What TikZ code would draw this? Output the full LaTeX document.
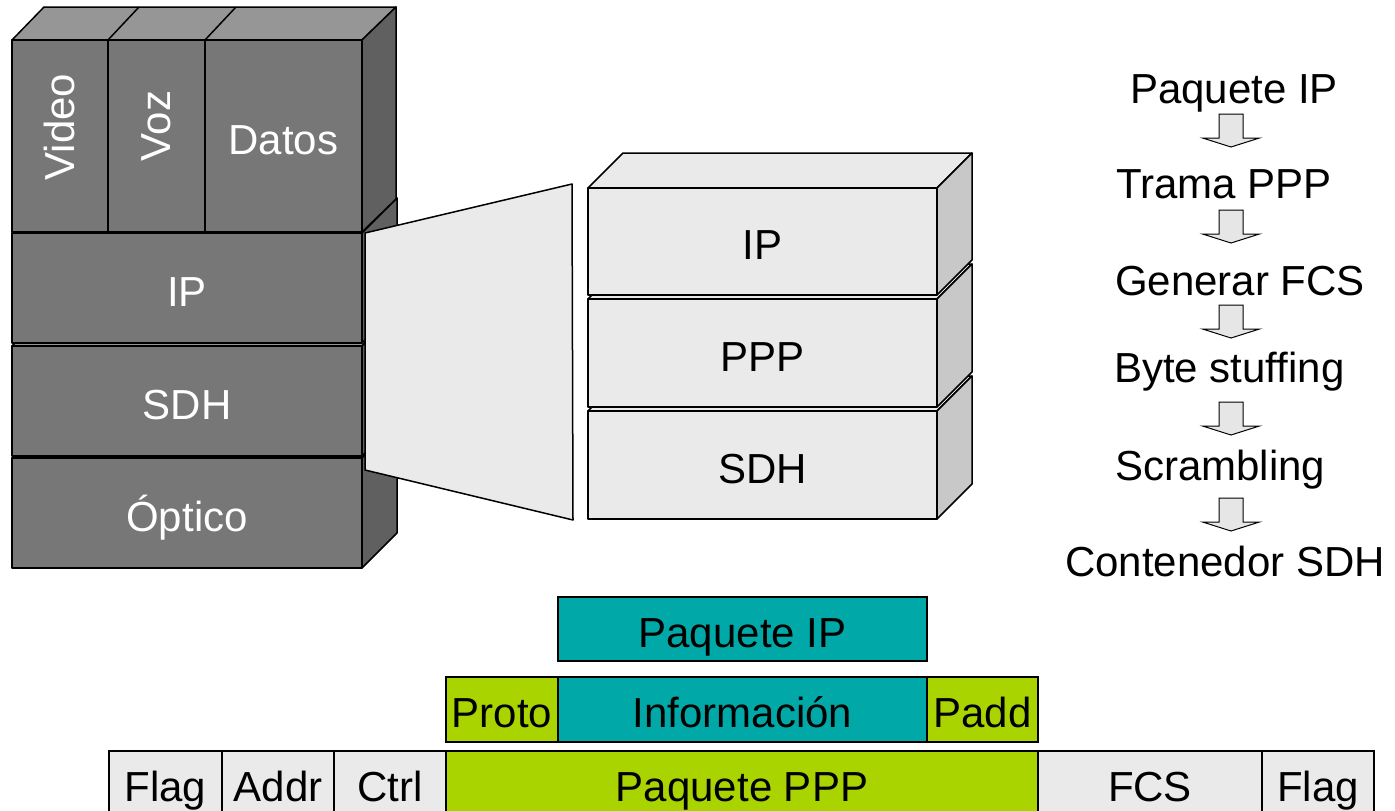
\documentclass[tikz,border=0pt]{standalone}
\usepackage{fontspec}
\setmainfont{Liberation Sans}

\definecolor{dkfrontc}{HTML}{777777}
\definecolor{dktopc}{HTML}{969696}
\definecolor{dksidec}{HTML}{606060}
\definecolor{ltfrontc}{HTML}{EAEAEA}
\definecolor{lttopc}{HTML}{EAEAEA}
\definecolor{ltsidec}{HTML}{C8C8C8}
\definecolor{tealc}{HTML}{00A8A8}
\definecolor{greenc}{HTML}{AAD400}
\definecolor{cellgrayc}{HTML}{EAEAEA}
\definecolor{arrowc}{HTML}{E6E6E6}

% 3D box: name, x1, y1, x2, y2 (front face), depth, palette, label
\newcommand\cuboid[8]{%
  \path[#7top] (#2,#3) -- ++(#6,-#6) -- ({#4+#6},{#3-#6}) -- (#4,#3) -- cycle;
  \path[#7side] (#4,#3) -- ({#4+#6},{#3-#6}) -- ({#4+#6},{#5-#6}) -- (#4,#5) -- cycle;
  \node[#7front, minimum width={(#4-#2)*1pt}, minimum height={(#5-#3)*1pt},
        anchor=north west] (#1) at (#2,#3) {#8};
}

% field of a frame: name, x1, y1, x2, y2, style, label
\newcommand\field[7]{%
  \node[#6, minimum width={(#4-#2)*1pt}, minimum height={(#5-#3)*1pt},
        anchor=north west] (#1) at (#2,#3) {#7};
}

% hollow block arrow pointing down: centre x, top y
\newcommand\flowarrow[2]{%
  \path[blockarr] (#1-12,#2) -- (#1+12,#2) -- (#1+12,#2+24) -- (#1+28.5,#2+24)
    -- (#1,#2+33) -- (#1-28.5,#2+24) -- (#1-12,#2+24) -- cycle;
}

\begin{document}
\begin{tikzpicture}[x=1pt,y=-1pt,
  every node/.style={font=\fontsize{42}{50}\selectfont, inner sep=0pt, outer sep=0pt},
  edge/.style={draw=black, line width=1.5pt, line join=round},
  dktop/.style={edge, fill=dktopc},
  dkside/.style={edge, fill=dksidec},
  dkfront/.style={edge, fill=dkfrontc, text=white, text height=36pt, text depth=0pt},
  lttop/.style={edge, fill=lttopc},
  ltside/.style={edge, fill=ltsidec},
  ltfront/.style={edge, fill=ltfrontc, text=black, text height=36pt, text depth=0pt},
  cellbase/.style={draw=black, line width=1.4pt, text=black, text height=36pt, text depth=0pt},
  cellgray/.style={cellbase, fill=cellgrayc},
  cellteal/.style={cellbase, fill=tealc},
  cellgreen/.style={cellbase, fill=greenc},
  blockarr/.style={draw=black, line width=1pt, fill=arrowc, line join=miter},
  flowtext/.style={anchor=base west, text=black}
]
\useasboundingbox (0,0) rectangle (1395,811);

% ---- layered stack (left) ----
\cuboid{opt}{12}{458}{362}{568}{35}{dk}{Óptico}
\cuboid{sdhl}{12}{346}{362}{456}{35}{dk}{SDH}
\cuboid{ipl}{12}{233}{362}{343}{35}{dk}{IP}

% upper block with three services
\path[dktop] (12,40) -- (44,7) -- (396,7) -- (362,40) -- cycle;
\path[dkside] (362,40) -- (396,7) -- (396,199) -- (362,232) -- cycle;
\draw[edge] (108,40) -- (139,7);
\draw[edge] (205,40) -- (236,7);
\node[dkfront, minimum width=96pt, minimum height=192pt, anchor=north west] (video) at (12,40) {};
\node[dkfront, minimum width=97pt, minimum height=192pt, anchor=north west] (voz) at (108,40) {};
\node[dkfront, minimum width=157pt, minimum height=192pt, anchor=north west] (datos) at (205,40) {Datos};
\node[rotate=90, text=white] (videolbl) at (59,127) {Video};
\node[rotate=90, text=white] (vozlbl) at (156,126) {Voz};

% ---- expansion wedge ----
\path[edge, fill=ltfrontc] (365,233) -- (572,184) -- (573,520) -- (365,470) -- cycle;

% ---- expanded stack (right) ----
\cuboid{sdhr}{588}{411}{937}{519}{35}{lt}{SDH}
\cuboid{pppr}{588}{299}{937}{407}{35}{lt}{PPP}
\cuboid{ipr}{588}{188}{937}{295}{35}{lt}{IP}

% ---- processing sequence ----
\node[flowtext] (f1) at (1130,103) {Paquete IP};
\node[flowtext] (f2) at (1116,198) {Trama PPP};
\node[flowtext] (f3) at (1115,295) {Generar FCS};
\node[flowtext] (f4) at (1114,382) {Byte stuffing};
\node[flowtext] (f5) at (1115,480) {Scrambling};
\node[flowtext] (f6) at (1065,576) {Contenedor SDH};
\flowarrow{1231}{114}
\flowarrow{1231}{210}
\flowarrow{1231}{305}
\flowarrow{1231}{402}
\flowarrow{1231}{498}

% ---- frame encapsulation ----
\field{pip}{558}{597}{927}{661}{cellteal}{Paquete IP}
\field{proto}{446}{677}{558}{742}{cellgreen}{Proto}
\field{info}{558}{677}{927}{742}{cellteal}{Información}
\field{padd}{927}{677}{1038}{742}{cellgreen}{Padd}
\field{flaga}{109}{751}{222}{816}{cellgray}{Flag}
\field{addr}{222}{751}{334}{816}{cellgray}{Addr}
\field{ctrl}{334}{751}{446}{816}{cellgray}{Ctrl}
\field{ppp}{446}{751}{1038}{816}{cellgreen}{Paquete PPP}
\field{fcs}{1038}{751}{1262}{816}{cellgray}{FCS}
\field{flagb}{1262}{751}{1374}{816}{cellgray}{Flag}
\end{tikzpicture}
\end{document}
